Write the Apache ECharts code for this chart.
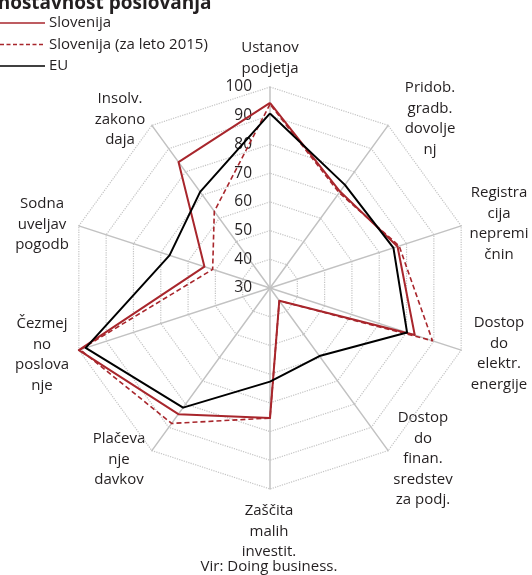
<!DOCTYPE html>
<html>
<head>
    <meta charset="utf-8">
    <title>Enostavnost poslovanja</title>
    <script src="https://cdn.jsdelivr.net/npm/echarts@6/dist/echarts.min.js"></script>
    <style>
        html, body { margin: 0; padding: 0; background: #fff; }
        #main { width: 532px; height: 575px; }
    </style>
</head>
<body>
    <div id="main"></div>
    <script type="text/javascript">
        // indicators, clockwise from the top
        var indicatorNames = [
            'Ustanov\npodjetja',
            'Pridob.\ngradb.\ndovolje\nnj',
            'Registra\ncija\nnepremi\nčnin',
            'Dostop\ndo\nelektr.\nenergije',
            'Dostop\ndo\nfinan.\nsredstev\nza podj.',
            'Zaščita\nmalih\ninvestit.',
            'Plačeva\nnje\ndavkov',
            'Čezmej\nno\nposlova\nnje',
            'Sodna\nuveljav\npogodb',
            'Insolv.\nzakono\ndaja'
        ];
        var seriesNames = ['Slovenija', 'Slovenija (za leto 2015)', 'EU'];
        var slovenija = [94.5, 71.5, 76.7, 83, 35.5, 75.3, 84.3, 100, 54, 84.2];
        var slovenija2015 = [94, 71, 77.3, 89.5, 35.5, 75.3, 88.3, 99.5, 51, 63];
        var eu = [90.8, 74.4, 75.2, 80.2, 59.3, 62.6, 81.5, 97.5, 66.8, 71.4];
        var axisMin = 30, axisMax = 100;

        // where each indicator name sits (centre x, first line y)
        var namePos = [
            [270, 48], [430, 88], [499, 193], [499, 323], [423, 418],
            [269, 511], [119, 439], [42, 324], [42, 204], [120, 99]
        ];

        // echarts lays radar indicators out counter-clockwise, so walk the lists backwards
        var order = [0, 9, 8, 7, 6, 5, 4, 3, 2, 1];
        function reorder(arr) {
            return order.map(function (k) { return arr[k]; });
        }

        var red = '#a8262c';
        var ink = '#231f20';
        var font = '"Open Sans", sans-serif';
        var fs = 15;

        var myChart = echarts.init(document.getElementById('main'));

        var graphics = [];
        graphics.push({
            type: 'text', x: -13, y: 13,
            style: { text: 'Enostavnost poslovanja', fill: ink, fontSize: 19, fontWeight: 'bold',
                fontFamily: font, align: 'left', verticalAlign: 'bottom' }
        });
        indicatorNames.forEach(function (n, i) {
            graphics.push({
                type: 'text', x: namePos[i][0], y: namePos[i][1] - 10.25,
                style: { text: n, fill: ink, fontSize: fs, fontFamily: font,
                    align: 'center', verticalAlign: 'top', lineHeight: 20.5 }
            });
        });
        var legendStyles = [
            { stroke: red, lineWidth: 1.6 },
            { stroke: red, lineWidth: 1.3, lineDash: [4, 2.5] },
            { stroke: '#000', lineWidth: 1.6 }
        ];
        seriesNames.forEach(function (n, i) {
            var y = 23 + i * 21.5;
            graphics.push({ type: 'line', shape: { x1: 0, y1: y, x2: 45, y2: y }, style: legendStyles[i] });
            graphics.push({
                type: 'text', x: 49, y: y,
                style: { text: n, fill: ink, fontSize: fs, fontFamily: font, align: 'left', verticalAlign: 'middle' }
            });
        });
        graphics.push({
            type: 'text', x: 269, y: 567,
            style: { text: 'Vir: Doing business.', fill: ink, fontSize: fs, fontFamily: font,
                align: 'center', verticalAlign: 'middle' }
        });

        var option = {
            animation: false,
            radar: {
                center: [270, 288],
                radius: 201,
                startAngle: 90,
                splitNumber: 7,
                shape: 'polygon',
                axisName: { show: false },
                axisLine: { lineStyle: { color: '#c2c2c2', width: 1.5 } },
                splitLine: { lineStyle: { color: '#c4c4c4', type: 'dotted', width: 1.2 } },
                splitArea: { show: false },
                axisTick: { show: false },
                axisLabel: { show: false },
                indicator: reorder(indicatorNames).map(function (n, i) {
                    var ind = { name: n, min: axisMin, max: axisMax };
                    if (i === 0) {
                        ind.axisLabel = { show: true, color: ink, fontSize: 15.5, fontFamily: font, margin: 18 };
                    }
                    return ind;
                })
            },
            graphic: graphics,
            series: [{
                type: 'radar',
                symbol: 'none',
                data: [
                    { name: seriesNames[0], value: reorder(slovenija), lineStyle: { color: red, width: 2 }, z: 3 },
                    { name: seriesNames[1], value: reorder(slovenija2015), lineStyle: { color: red, width: 1.6, type: [5, 3] }, z: 2 },
                    { name: seriesNames[2], value: reorder(eu), lineStyle: { color: '#000', width: 2 }, z: 1 }
                ]
            }]
        };
        myChart.setOption(option);
    </script>
</body>
</html>
